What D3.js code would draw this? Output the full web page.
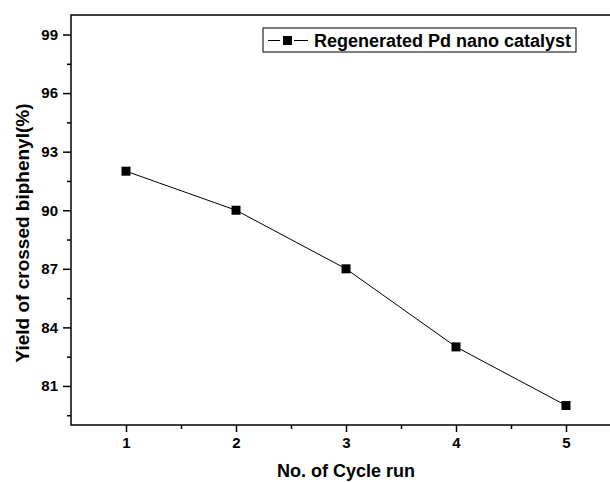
<!DOCTYPE html>
<html>
<head>
<meta charset="utf-8">
<script src="https://cdn.jsdelivr.net/npm/d3@7"></script>
<style>
  body { margin: 0; background: #fff; }
  text { font-family: "Liberation Sans", Arial, sans-serif; font-weight: bold; fill: #000; }
  .tick text { font-size: 15px !important; font-weight: bold !important; }
</style>
</head>
<body>
<div id="wrapper"></div>
<script>
const cycles = [1, 2, 3, 4, 5]
const yields = [92, 90, 87, 83, 80]
const yTicks = [81, 84, 87, 90, 93, 96, 99]
const yMinor = [79.5, 82.5, 85.5, 88.5, 91.5, 94.5, 97.5]
const xMinor = [1.5, 2.5, 3.5, 4.5]
const seriesName = 'Regenerated Pd nano catalyst'

let dimensions = {
    width: 610,
    height: 482,
    margin: { top: 15, right: -11, bottom: 57, left: 71 }
}
dimensions.boundedWidth = dimensions.width - dimensions.margin.left - dimensions.margin.right
dimensions.boundedHeight = dimensions.height - dimensions.margin.top - dimensions.margin.bottom

const svg = d3.select('#wrapper').append('svg')
    .attr('width', dimensions.width)
    .attr('height', dimensions.height)

const bounds = svg.append('g')
    .attr('transform', `translate(${dimensions.margin.left},${dimensions.margin.top})`)

const xScale = d3.scaleLinear()
    .domain([0.5, 5.5])
    .range([0, dimensions.boundedWidth])

const yScale = d3.scaleLinear()
    .domain([79, 100])
    .range([dimensions.boundedHeight, 0])

// frame
bounds.append('rect')
    .attr('width', dimensions.boundedWidth)
    .attr('height', dimensions.boundedHeight)
    .attr('fill', 'none')
    .attr('stroke', '#000')
    .attr('stroke-width', 1.5)

// axes
const xAxis = d3.axisBottom(xScale).tickValues(cycles).tickFormat(d3.format('d')).tickSize(7).tickPadding(5)
const xAxisMinor = d3.axisBottom(xScale).tickValues(xMinor).tickFormat('').tickSize(4)
const yAxis = d3.axisLeft(yScale).tickValues(yTicks).tickSize(8).tickPadding(5)
const yAxisMinor = d3.axisLeft(yScale).tickValues(yMinor).tickFormat('').tickSize(4)

bounds.append('g').attr('transform', `translate(0,${dimensions.boundedHeight})`).call(xAxis)
bounds.append('g').attr('transform', `translate(0,${dimensions.boundedHeight})`).call(xAxisMinor)
bounds.append('g').call(yAxis)
bounds.append('g').call(yAxisMinor)

bounds.selectAll('.domain').remove()
bounds.selectAll('.tick line').attr('stroke', '#000').attr('stroke-width', 1.5)

// series line
const line = d3.line()
    .x((d, i) => xScale(cycles[i]))
    .y(d => yScale(d))

bounds.append('path')
    .datum(yields)
    .attr('d', line)
    .attr('fill', 'none')
    .attr('stroke', '#000')
    .attr('stroke-width', 1)

const sq = 9
bounds.selectAll('.pt')
    .data(yields)
    .enter()
    .append('rect')
    .attr('class', 'pt')
    .attr('x', (d, i) => xScale(cycles[i]) - sq / 2)
    .attr('y', d => yScale(d) - sq / 2)
    .attr('width', sq)
    .attr('height', sq)
    .attr('fill', '#000')

// axis labels
svg.append('text')
    .attr('x', 346)
    .attr('y', 477)
    .attr('text-anchor', 'middle')
    .style('font-size', '18px')
    .text('No. of Cycle run')

svg.append('text')
    .attr('transform', 'translate(29,233) rotate(-90)')
    .attr('text-anchor', 'middle')
    .style('font-size', '19px')
    .text('Yield of crossed biphenyl(%)')

// legend
const legend = svg.append('g').attr('transform', 'translate(263,28)')
legend.append('rect')
    .attr('width', 313)
    .attr('height', 24)
    .attr('fill', '#fff')
    .attr('stroke', '#000')
    .attr('stroke-width', 1)
legend.append('line')
    .attr('x1', 5).attr('x2', 17)
    .attr('y1', 12.5).attr('y2', 12.5)
    .attr('stroke', '#000')
legend.append('rect')
    .attr('x', 20).attr('y', 8)
    .attr('width', 9).attr('height', 9)
    .attr('fill', '#000')
legend.append('line')
    .attr('x1', 31).attr('x2', 45)
    .attr('y1', 12.5).attr('y2', 12.5)
    .attr('stroke', '#000')
legend.append('text')
    .attr('x', 51)
    .attr('y', 19)
    .style('font-size', '18px')
    .text(seriesName)
</script>
</body>
</html>
